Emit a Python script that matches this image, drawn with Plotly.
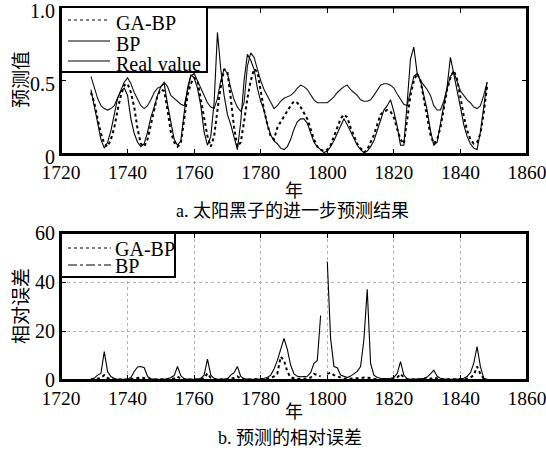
import plotly.graph_objects as go

W, H = 546, 452

years = list(range(1729, 1849))

real_value = [
    0.53, 0.45, 0.38, 0.33, 0.31, 0.30, 0.31, 0.33, 0.38, 0.44,
    0.49, 0.52, 0.48, 0.42, 0.37, 0.33, 0.31, 0.33, 0.37, 0.42,
    0.45, 0.46, 0.49, 0.46, 0.40, 0.38, 0.36, 0.34, 0.33, 0.42,
    0.53, 0.55, 0.50, 0.45, 0.40, 0.35, 0.32, 0.31, 0.38, 0.50,
    0.58, 0.55, 0.45, 0.37, 0.32, 0.29, 0.35, 0.60, 0.69, 0.66,
    0.58, 0.50, 0.44, 0.40, 0.35, 0.31, 0.33, 0.36, 0.38, 0.39,
    0.40, 0.42, 0.45, 0.47, 0.46, 0.44, 0.40, 0.37, 0.35, 0.35,
    0.35, 0.35, 0.37, 0.39, 0.42, 0.44, 0.46, 0.47, 0.44, 0.42,
    0.40, 0.37, 0.36, 0.36, 0.37, 0.40, 0.44, 0.47, 0.48, 0.48,
    0.47, 0.45, 0.41, 0.37, 0.34, 0.33, 0.42, 0.53, 0.55, 0.50,
    0.47, 0.44, 0.40, 0.33, 0.30, 0.30, 0.36, 0.45, 0.53, 0.56,
    0.50, 0.43, 0.40, 0.37, 0.35, 0.32, 0.31, 0.33, 0.40, 0.49,
]

bp_pred = [
    0.44, 0.32, 0.20, 0.10, 0.04, 0.08, 0.16, 0.28, 0.38, 0.43,
    0.45, 0.40, 0.24, 0.14, 0.08, 0.05, 0.07, 0.15, 0.25, 0.32,
    0.40, 0.46, 0.48, 0.34, 0.22, 0.10, 0.06, 0.09, 0.28, 0.45,
    0.54, 0.52, 0.45, 0.33, 0.15, 0.06, 0.12, 0.35, 0.83, 0.58,
    0.40, 0.27, 0.20, 0.12, 0.03, 0.22, 0.50, 0.68, 0.64, 0.58,
    0.45, 0.36, 0.30, 0.20, 0.13, 0.09, 0.07, 0.04, 0.03, 0.05,
    0.10, 0.17, 0.22, 0.24, 0.24, 0.21, 0.14, 0.08, 0.05, 0.03,
    0.01, 0.02, 0.05, 0.09, 0.14, 0.20, 0.24, 0.20, 0.15, 0.11,
    0.06, 0.03, 0.01, 0.02, 0.05, 0.09, 0.16, 0.24, 0.30, 0.33,
    0.37, 0.29, 0.19, 0.06, 0.06, 0.35, 0.65, 0.73, 0.55, 0.50,
    0.40, 0.30, 0.16, 0.06, 0.08, 0.20, 0.32, 0.46, 0.66, 0.55,
    0.45, 0.32, 0.20, 0.12, 0.07, 0.04, 0.03, 0.15, 0.32, 0.49,
]

gabp_pred = [
    0.42, 0.35, 0.24, 0.14, 0.07, 0.05, 0.10, 0.18, 0.30, 0.40,
    0.47, 0.48, 0.42, 0.32, 0.17, 0.07, 0.05, 0.10, 0.20, 0.30,
    0.40, 0.44, 0.43, 0.30, 0.15, 0.08, 0.05, 0.07, 0.25, 0.40,
    0.48, 0.52, 0.50, 0.38, 0.25, 0.12, 0.05, 0.12, 0.30, 0.46,
    0.58, 0.56, 0.38, 0.18, 0.05, 0.08, 0.22, 0.38, 0.50, 0.58,
    0.56, 0.42, 0.30, 0.20, 0.12, 0.10, 0.18, 0.22, 0.26, 0.30,
    0.33, 0.36, 0.35, 0.32, 0.28, 0.24, 0.17, 0.10, 0.05, 0.03,
    0.02, 0.03, 0.06, 0.12, 0.19, 0.24, 0.27, 0.25, 0.18, 0.12,
    0.07, 0.04, 0.01, 0.03, 0.08, 0.13, 0.20, 0.27, 0.29, 0.30,
    0.29, 0.25, 0.17, 0.10, 0.07, 0.22, 0.40, 0.50, 0.55, 0.50,
    0.38, 0.25, 0.13, 0.07, 0.10, 0.18, 0.30, 0.44, 0.52, 0.57,
    0.51, 0.38, 0.26, 0.16, 0.10, 0.07, 0.08, 0.14, 0.28, 0.46,
]

bp_err = [
    0.3, 0.8, 2.0, 2.7, 11.6, 3.4, 1.4, 0.6, 0.3, 0.3,
    0.3, 0.3, 1.0, 3.5, 5.3, 5.5, 5.0, 1.5, 0.5, 0.3,
    0.3, 0.3, 0.3, 0.5, 1.0, 1.8, 5.5, 1.8, 0.5, 0.3,
    0.3, 0.3, 0.3, 0.7, 2.0, 8.5, 2.0, 0.7, 0.3, 0.3,
    0.3, 0.5, 2.0, 3.0, 5.5, 1.5, 0.5, 0.3, 0.3, 0.3,
    0.3, 0.5, 0.7, 1.0, 2.0, 4.5, 8.0, 13.0, 17.0, 12.5,
    6.0, 2.5, 1.5, 1.3, 1.3, 1.5, 3.0, 6.8, 8.0, 26.3,
    None, 48.4, 17.0, 5.5, 5.0, 2.0, 1.4, 1.0, 1.6, 2.5,
    3.5, 5.5, 16.4, 37.0, 6.8, 2.0, 1.0, 0.7, 0.5, 0.5,
    0.7, 1.0, 2.7, 7.5, 2.0, 0.5, 0.3, 0.3, 0.3, 0.5,
    0.7, 1.2, 2.5, 4.0, 1.5, 0.7, 0.5, 0.3, 0.3, 0.3,
    0.3, 0.5, 0.7, 1.4, 3.0, 6.8, 13.6, 5.5, 0.7, 0.3,
]

gabp_err = [
    0.2, 0.3, 0.5, 0.8, 2.0, 0.8, 0.3, 0.2, 0.2, 0.2,
    0.2, 0.2, 0.3, 0.5, 0.8, 1.0, 0.8, 0.4, 0.2, 0.2,
    0.2, 0.2, 0.2, 0.3, 0.4, 0.6, 1.4, 0.5, 0.2, 0.2,
    0.2, 0.2, 0.2, 0.3, 0.8, 2.7, 0.8, 0.3, 0.2, 0.2,
    0.2, 0.2, 0.5, 0.8, 1.5, 0.5, 0.2, 0.2, 0.2, 0.2,
    0.2, 0.2, 0.3, 0.5, 0.8, 1.5, 2.7, 9.5, 8.0, 3.4,
    1.0, 0.7, 0.5, 0.5, 0.5, 0.6, 1.0, 2.5, 2.0, 1.5,
    None, 2.5, 3.0, 2.0, 1.5, 0.8, 0.5, 0.5, 0.5, 0.6,
    0.7, 0.8, 1.0, 1.0, 0.8, 0.5, 0.3, 0.2, 0.2, 0.2,
    0.3, 0.5, 1.0, 2.5, 1.0, 0.3, 0.2, 0.2, 0.2, 0.2,
    0.2, 0.3, 0.5, 1.0, 0.5, 0.2, 0.2, 0.2, 0.2, 0.2,
    0.2, 0.2, 0.3, 0.5, 1.0, 2.0, 5.5, 2.5, 0.5, 0.2,
]

x_ticks = [1720, 1740, 1760, 1780, 1800, 1820, 1840, 1860]
top_y_ticks = [0, 0.5, 1.0]
top_y_text = ["0", "0.5", "1.0"]
bot_y_ticks = [0, 20, 40, 60]
bot_y_text = ["0", "20", "40", "60"]

SERIF = "Liberation Serif, Times New Roman, serif"
CJK = "Liberation Serif, Noto Sans CJK SC, serif"

def px(X):
    return X / W

def py(Y):
    return 1 - Y / H

fig = go.Figure()

fig.add_trace(go.Scatter(x=years, y=real_value, mode="lines", name="Real value",
                         line=dict(color="#111", width=1.1), xaxis="x", yaxis="y"))
fig.add_trace(go.Scatter(x=years, y=bp_pred, mode="lines", name="BP",
                         line=dict(color="black", width=1.1), xaxis="x", yaxis="y"))
fig.add_trace(go.Scatter(x=years, y=gabp_pred, mode="lines", name="GA-BP",
                         line=dict(color="black", width=2, dash="dot"), xaxis="x", yaxis="y"))

fig.add_trace(go.Scatter(x=years, y=bp_err, mode="lines", name="BP",
                         line=dict(color="black", width=1.1), xaxis="x2", yaxis="y2",
                         connectgaps=False))
fig.add_trace(go.Scatter(x=years, y=gabp_err, mode="lines", name="GA-BP",
                         line=dict(color="black", width=2, dash="dot"), xaxis="x2", yaxis="y2",
                         connectgaps=False))

xdom = [px(61), px(527)]
top_dom = [py(154), py(7.5)]
bot_dom = [py(380), py(233)]
base_axis = dict(showline=True, linecolor="black", linewidth=2, mirror="ticks",
                 ticks="inside", ticklen=5, tickcolor="black", tickwidth=1,
                 zeroline=False, automargin=False, ticklabeloverflow="allow")
x_axis_common = dict(base_axis, tickfont=dict(family=SERIF, size=19.5, color="black"))
y_axis_common = dict(base_axis, tickfont=dict(family=SERIF, size=20, color="black"))
mirror_common = dict(showline=True, linecolor="black", linewidth=2, ticks="inside",
                     ticklen=5, tickcolor="black", tickwidth=1, showticklabels=False,
                     showgrid=False, zeroline=False, automargin=False)

fig.update_layout(
    width=W, height=H,
    margin=dict(l=0, r=0, t=0, b=0, autoexpand=False),
    paper_bgcolor="white", plot_bgcolor="white",
    showlegend=False,
    xaxis=dict(domain=xdom, range=[1720, 1860], tickvals=x_ticks, anchor="y",
               showgrid=False, **x_axis_common),
    yaxis=dict(domain=top_dom, range=[0, 1], tickvals=top_y_ticks,
               ticktext=top_y_text, anchor="x", showgrid=False, ticklabelshift=3,
               **y_axis_common),
    xaxis2=dict(domain=xdom, range=[1720, 1860], tickvals=x_ticks, anchor="y2",
                showgrid=True, gridcolor="#b0b0b0", griddash="dot", gridwidth=1,
                **x_axis_common),
    yaxis2=dict(domain=bot_dom, range=[0, 60], tickvals=bot_y_ticks,
                ticktext=bot_y_text, anchor="x2", showgrid=True, gridcolor="#b0b0b0",
                griddash="dot", gridwidth=1, **y_axis_common),
    # mirrored top/right axes carrying the inside ticks
    xaxis3=dict(overlaying="x", anchor="y", side="top", range=[1720, 1860],
                tickvals=x_ticks, **mirror_common),
    yaxis3=dict(overlaying="y", anchor="x", side="right", range=[0, 1],
                tickvals=top_y_ticks, **mirror_common),
    xaxis4=dict(overlaying="x2", anchor="y2", side="top", range=[1720, 1860],
                tickvals=x_ticks, **mirror_common),
    yaxis4=dict(overlaying="y2", anchor="x2", side="right", range=[0, 60],
                tickvals=bot_y_ticks, **mirror_common),
)

shapes = []
annotations = []

# plot frames
for xr, yr in (("x domain", "y domain"), ("x2 domain", "y2 domain")):
    shapes.append(dict(type="rect", xref=xr, yref=yr, x0=0, x1=1, y0=0, y1=1,
                       line=dict(color="black", width=2), layer="above"))

# top legend
shapes.append(dict(type="rect", xref="paper", yref="paper", x0=px(61), x1=px(207),
                   y0=py(72), y1=py(7), line=dict(color="black", width=2),
                   fillcolor="white", layer="above"))
leg_top = [("GA-BP", 20, "dot", 1.2), ("BP", 41, "solid", 1.1), ("Real value", 61, "solid", 1.1)]
for name, Y, dash, w in leg_top:
    shapes.append(dict(type="line", xref="paper", yref="paper", x0=px(68), x1=px(110),
                       y0=py(Y), y1=py(Y), line=dict(color="black", width=w, dash=dash),
                       layer="above"))
    annotations.append(dict(text=name, xref="paper", yref="paper", x=px(114), y=py(Y + 3),
                            xanchor="left", yanchor="middle", showarrow=False,
                            font=dict(family=SERIF, size=20, color="black")))

# bottom legend
shapes.append(dict(type="rect", xref="paper", yref="paper", x0=px(61), x1=px(175),
                   y0=py(277), y1=py(233), line=dict(color="black", width=2),
                   fillcolor="white", layer="above"))
leg_bot = [("GA-BP", 248, "dot", 1.2), ("BP", 265, "dashdot", 1.2)]
for name, Y, dash, w in leg_bot:
    shapes.append(dict(type="line", xref="paper", yref="paper", x0=px(68), x1=px(111),
                       y0=py(Y), y1=py(Y), line=dict(color="black", width=w, dash=dash),
                       layer="above"))
    annotations.append(dict(text=name, xref="paper", yref="paper", x=px(113), y=py(Y + 1),
                            xanchor="left", yanchor="middle", showarrow=False,
                            font=dict(family=SERIF, size=20, color="black")))

# axis titles & captions
def label(text, X, Y, size, angle=0):
    return dict(text=text, xref="paper", yref="paper", x=px(X), y=py(Y), textangle=angle,
                xanchor="center", yanchor="middle", showarrow=False,
                font=dict(family=CJK, size=size, color="black"))

annotations += [
    label("预测值", 21, 80, 19, -90),
    label("相对误差", 21, 306, 19, -90),
    label("年", 294, 191, 18),
    label("年", 294, 412, 18),
    label("a. 太阳黑子的进一步预测结果", 292, 211, 18),
    label("b. 预测的相对误差", 290, 438, 18),
]

fig.update_layout(shapes=shapes, annotations=annotations)
fig.write_html("out.html")
